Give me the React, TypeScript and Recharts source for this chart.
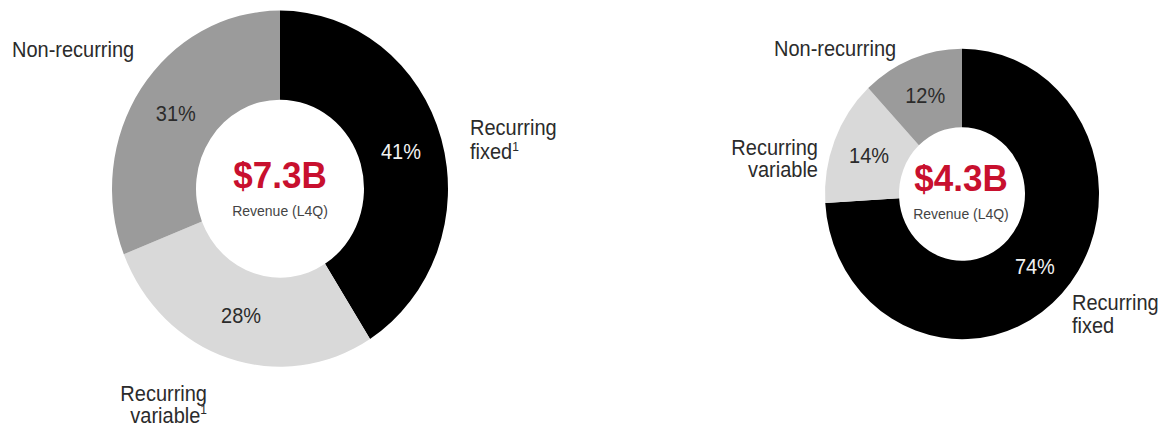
import React from 'react'
import { PieChart, Pie, Cell } from 'recharts';

// revenue mix, last four quarters
const segments: string[] = ['Recurring fixed', 'Recurring variable', 'Non-recurring'];
const leftShares: number[] = [41, 28, 31];
const rightShares: number[] = [74, 14, 12];
const totals: string[] = ['$7.3B', '$4.3B'];
const subtitle = 'Revenue (L4Q)';

const colors: string[] = ['#000000', '#d9d9d9', '#9b9b9b'];
const labelColors: string[] = ['#f2f2f2', '#2b2b2b', '#2b2b2b'];
const FONT = "'Liberation Sans', Arial, Helvetica, sans-serif";
const TEXT = '#2b2b2b';
const RED = '#c8102e';

const leftData = segments.map((name, i) => ({ name, value: leftShares[i] }));
const rightData = segments.map((name, i) => ({ name, value: rightShares[i] }));

const renderPct = (props: any) => {
    const { cx, cy, midAngle, innerRadius, outerRadius, value, index } = props;
    const rad = Math.PI / 180;
    const r = (innerRadius + outerRadius) / 2;
    const x = cx + r * Math.cos(-midAngle * rad);
    const y = cy + r * Math.sin(-midAngle * rad);
    return (
        <text x={x} y={y} fill={labelColors[index]} textAnchor="middle" dominantBaseline="central"
            fontFamily={FONT} fontSize={20}>
            {`${value}%`}
        </text>
    );
}

const Center: React.FC<{ x: number, y: number, total: string }> = ({ x, y, total }) => (
    <g fontFamily={FONT} textAnchor="middle">
        <text x={x} y={y} fill={RED} fontSize={35} fontWeight="bold">{total}</text>
        <text x={x} y={y + 27} fill="#444" fontSize={14}>{subtitle}</text>
    </g>
);

const Name: React.FC<{ x: number, y: number, lines: string[], anchor?: string, sup?: boolean, gap?: number }> =
    ({ x, y, lines, anchor = 'start', sup = false, gap = 23 }) => (
    <text x={x} y={y} fill={TEXT} fontFamily={FONT} fontSize={20} textAnchor={anchor}>
        {lines.map((line, i) => (
            <tspan key={i} x={x} dy={i === 0 ? 0 : gap}>
                {line}
                {sup && i === lines.length - 1 ? <tspan fontSize={12} dy={-8}>1</tspan> : null}
            </tspan>
        ))}
    </text>
);

const App: React.FC = () => {
    return (
        <div style={{ position: 'absolute', left: 0, top: 0, transform: 'scaleY(1.06)', transformOrigin: '0 0' }}>
            <PieChart width={1165} height={402} margin={{ top: 0, right: 0, bottom: 0, left: 0 }}>
                <Pie data={leftData} dataKey="value" nameKey="name" cx={280} cy={178} innerRadius={84} outerRadius={168}
                    startAngle={90} endAngle={-270} stroke="none" label={renderPct} labelLine={false}
                    isAnimationActive={false}>
                    {leftData.map((entry, index) => (
                        <Cell key={`l-${index}`} fill={colors[index]} />
                    ))}
                </Pie>
                <Pie data={rightData} dataKey="value" nameKey="name" cx={962} cy={183} innerRadius={63} outerRadius={137}
                    startAngle={90} endAngle={-270} stroke="none" label={renderPct} labelLine={false}
                    isAnimationActive={false}>
                    {rightData.map((entry, index) => (
                        <Cell key={`r-${index}`} fill={colors[index]} />
                    ))}
                </Pie>
                <Center x={280} y={177} total={totals[0]} />
                <Center x={961} y={180} total={totals[1]} />
                <Name x={12} y={54} lines={['Non-recurring']} />
                <Name x={470} y={127} lines={['Recurring', 'fixed']} sup />
                <Name x={207} y={378} lines={['Recurring', 'variable']} anchor="end" sup gap={21} />
                <Name x={774} y={53} lines={['Non-recurring']} />
                <Name x={818} y={146} lines={['Recurring', 'variable']} anchor="end" gap={21} />
                <Name x={1072} y={292} lines={['Recurring', 'fixed']} gap={22} />
            </PieChart>
        </div>
    );
}

export default App;
